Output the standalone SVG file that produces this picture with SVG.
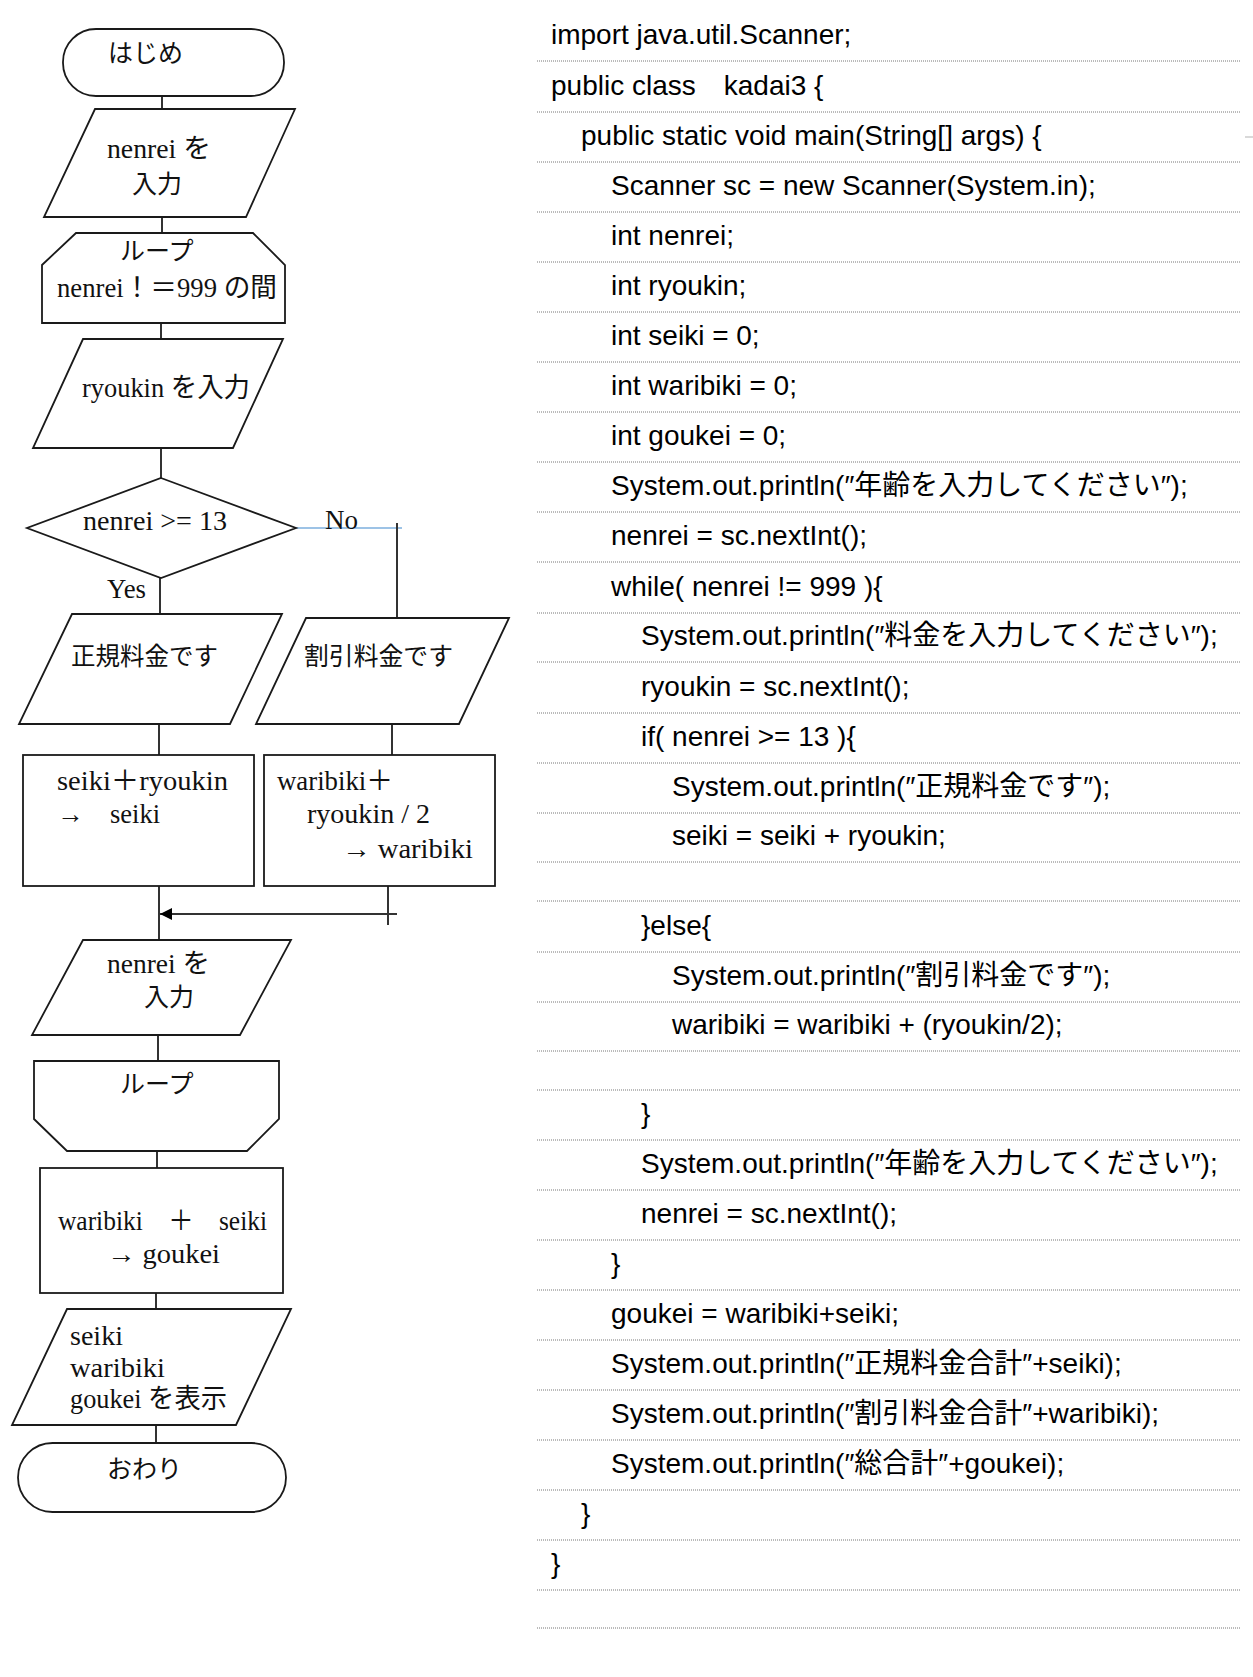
<svg xmlns="http://www.w3.org/2000/svg" width="1253" height="1677" viewBox="0 0 1253 1677">
<style>
.shape{fill:#fff;stroke:#1a1a1a;stroke-width:1.8}
.conn{stroke:#333;stroke-width:2;fill:none}
.ft{font-family:"Liberation Serif","Noto Sans CJK JP",serif;font-size:27px;fill:#111}
.cj{font-family:"Liberation Serif","Noto Sans CJK JP",serif;font-size:25px;fill:#111}
.code{font-family:"Liberation Sans","Noto Sans CJK JP",sans-serif;font-size:28px;fill:#000}
.dot{stroke:#777;stroke-width:1;stroke-dasharray:1 1}
</style>
<defs>
<marker id="arr" viewBox="0 0 10 10" refX="10" refY="5" markerWidth="14" markerHeight="12" markerUnits="userSpaceOnUse" orient="auto">
<path d="M0,0 L10,5 L0,10 z" fill="#000"/>
</marker>
</defs>
<rect width="1253" height="1677" fill="#fff"/>

<g id="connectors">
<line class="conn" x1="162" y1="96" x2="162" y2="109"/>
<line class="conn" x1="162" y1="217" x2="162" y2="233"/>
<line class="conn" x1="161" y1="323" x2="161" y2="339"/>
<line class="conn" x1="161" y1="448" x2="161" y2="478"/>
<line class="conn" x1="160" y1="578" x2="160" y2="614"/>
<line x1="296" y1="528" x2="402" y2="528" stroke="#9DC3E6" stroke-width="2"/>
<line class="conn" x1="397" y1="523" x2="397" y2="618"/>
<line class="conn" x1="159" y1="724" x2="159" y2="755"/>
<line class="conn" x1="392" y1="724" x2="392" y2="755"/>
<line class="conn" x1="159" y1="886" x2="159" y2="940"/>
<line class="conn" x1="388" y1="886" x2="388" y2="925"/>
<line class="conn" x1="397" y1="914" x2="160" y2="914" stroke="#000" marker-end="url(#arr)"/>
<line class="conn" x1="158" y1="1035" x2="158" y2="1061"/>
<line class="conn" x1="157" y1="1151" x2="157" y2="1168"/>
<line class="conn" x1="156" y1="1293" x2="156" y2="1309"/>
<line class="conn" x1="156" y1="1425" x2="156" y2="1443"/>
</g>

<g id="start">
<rect class="shape" x="63" y="29" width="221" height="67" rx="33" ry="33"/>
<text class="cj" x="108" y="62">はじめ</text>
</g>
<g id="input-nenrei">
<polygon class="shape" points="95,109 295,109 246,217 44,217"/>
<text class="ft" x="107" y="158" textLength="104" lengthAdjust="spacingAndGlyphs">nenrei を</text>
<text class="cj" x="132" y="193">入力</text>
</g>
<g id="loop-start">
<polygon class="shape" points="76,233 253,233 285,265 285,323 42,323 42,265"/>
<text class="cj" x="120" y="260">ループ</text>
<text class="ft" x="57" y="297" textLength="220" lengthAdjust="spacingAndGlyphs">nenrei！＝999 の間</text>
</g>
<g id="input-ryoukin">
<polygon class="shape" points="83,339 283,339 233,448 33,448"/>
<text class="ft" x="82" y="397" textLength="168" lengthAdjust="spacingAndGlyphs">ryoukin を入力</text>
</g>
<g id="decision">
<polygon class="shape" points="161,478 296,528 161,578 27,528"/>
<text class="ft" x="83" y="530" textLength="144" lengthAdjust="spacingAndGlyphs">nenrei &gt;= 13</text>
<text class="ft" x="325" y="529" textLength="33" lengthAdjust="spacingAndGlyphs">No</text>
<text class="ft" x="107" y="598" textLength="39" lengthAdjust="spacingAndGlyphs">Yes</text>
</g>
<g id="out-seiki">
<polygon class="shape" points="72,614 282,614 230,724 19,724"/>
<text class="cj" x="71" y="665" textLength="147" lengthAdjust="spacingAndGlyphs">正規料金です</text>
</g>
<g id="out-waribiki">
<polygon class="shape" points="306,618 509,618 459,724 256,724"/>
<text class="cj" x="304" y="665" textLength="149" lengthAdjust="spacingAndGlyphs">割引料金です</text>
</g>
<g id="calc-seiki">
<rect class="shape" x="23" y="755" width="231" height="131"/>
<text class="ft" x="57" y="790" textLength="171" lengthAdjust="spacingAndGlyphs">seiki＋ryoukin</text>
<text class="ft" x="57" y="823" textLength="103" lengthAdjust="spacingAndGlyphs">→　seiki</text>
</g>
<g id="calc-waribiki">
<rect class="shape" x="264" y="755" width="231" height="131"/>
<text class="ft" x="277" y="790" textLength="116" lengthAdjust="spacingAndGlyphs">waribiki＋</text>
<text class="ft" x="307" y="823" textLength="123" lengthAdjust="spacingAndGlyphs">ryoukin / 2</text>
<text class="ft" x="342" y="858" textLength="131" lengthAdjust="spacingAndGlyphs">→ waribiki</text>
</g>
<g id="input-nenrei-2">
<polygon class="shape" points="83,940 291,940 240,1035 32,1035"/>
<text class="ft" x="107" y="973" textLength="103" lengthAdjust="spacingAndGlyphs">nenrei を</text>
<text class="cj" x="144" y="1006">入力</text>
</g>
<g id="loop-end">
<polygon class="shape" points="34,1061 279,1061 279,1119 247,1151 67,1151 34,1119"/>
<text class="cj" x="120" y="1093">ループ</text>
</g>
<g id="calc-goukei">
<rect class="shape" x="40" y="1168" width="243" height="125"/>
<text class="ft" x="58" y="1230" textLength="209" lengthAdjust="spacingAndGlyphs">waribiki　＋　seiki</text>
<text class="ft" x="107" y="1263" textLength="113" lengthAdjust="spacingAndGlyphs">→ goukei</text>
</g>
<g id="display">
<polygon class="shape" points="67,1309 291,1309 236,1425 12,1425"/>
<text class="ft" x="70" y="1345" textLength="53" lengthAdjust="spacingAndGlyphs">seiki</text>
<text class="ft" x="70" y="1377" textLength="95" lengthAdjust="spacingAndGlyphs">waribiki</text>
<text class="ft" x="70" y="1408" textLength="157" lengthAdjust="spacingAndGlyphs">goukei を表示</text>
</g>
<g id="end">
<rect class="shape" x="18" y="1443" width="268" height="69" rx="34.5" ry="34.5"/>
<text class="cj" x="107" y="1478">おわり</text>
</g>

<g id="code-rules">
<line class="dot" x1="537" y1="61" x2="1240" y2="61"/>
<line class="dot" x1="537" y1="112" x2="1240" y2="112"/>
<line class="dot" x1="537" y1="162" x2="1240" y2="162"/>
<line class="dot" x1="537" y1="212" x2="1240" y2="212"/>
<line class="dot" x1="537" y1="262" x2="1240" y2="262"/>
<line class="dot" x1="537" y1="312" x2="1240" y2="312"/>
<line class="dot" x1="537" y1="362" x2="1240" y2="362"/>
<line class="dot" x1="537" y1="412" x2="1240" y2="412"/>
<line class="dot" x1="537" y1="462" x2="1240" y2="462"/>
<line class="dot" x1="537" y1="512" x2="1240" y2="512"/>
<line class="dot" x1="537" y1="562" x2="1240" y2="562"/>
<line class="dot" x1="537" y1="613" x2="1240" y2="613"/>
<line class="dot" x1="537" y1="662" x2="1240" y2="662"/>
<line class="dot" x1="537" y1="713" x2="1240" y2="713"/>
<line class="dot" x1="537" y1="763" x2="1240" y2="763"/>
<line class="dot" x1="537" y1="813" x2="1240" y2="813"/>
<line class="dot" x1="537" y1="862" x2="1240" y2="862"/>
<line class="dot" x1="537" y1="901" x2="1240" y2="901"/>
<line class="dot" x1="537" y1="952" x2="1240" y2="952"/>
<line class="dot" x1="537" y1="1002" x2="1240" y2="1002"/>
<line class="dot" x1="537" y1="1051" x2="1240" y2="1051"/>
<line class="dot" x1="537" y1="1090" x2="1240" y2="1090"/>
<line class="dot" x1="537" y1="1140" x2="1240" y2="1140"/>
<line class="dot" x1="537" y1="1190" x2="1240" y2="1190"/>
<line class="dot" x1="537" y1="1240" x2="1240" y2="1240"/>
<line class="dot" x1="537" y1="1290" x2="1240" y2="1290"/>
<line class="dot" x1="537" y1="1340" x2="1240" y2="1340"/>
<line class="dot" x1="537" y1="1390" x2="1240" y2="1390"/>
<line class="dot" x1="537" y1="1440" x2="1240" y2="1440"/>
<line class="dot" x1="537" y1="1490" x2="1240" y2="1490"/>
<line class="dot" x1="537" y1="1540" x2="1240" y2="1540"/>
<line class="dot" x1="537" y1="1590" x2="1240" y2="1590"/>
<line class="dot" x1="537" y1="1628" x2="1240" y2="1628"/>
<line x1="1245" y1="137" x2="1253" y2="137" stroke="#ccc" stroke-width="1.5"/>
</g>

<g id="code">
<text class="code" x="551" y="44">import java.util.Scanner;</text>
<text class="code" x="551" y="95" xml:space="preserve">public class　kadai3 {</text>
<text class="code" x="581" y="145">public static void main(String[] args) {</text>
<text class="code" x="611" y="195">Scanner sc = new Scanner(System.in);</text>
<text class="code" x="611" y="245">int nenrei;</text>
<text class="code" x="611" y="295">int ryoukin;</text>
<text class="code" x="611" y="345">int seiki = 0;</text>
<text class="code" x="611" y="395">int waribiki = 0;</text>
<text class="code" x="611" y="445">int goukei = 0;</text>
<text class="code" x="611" y="495">System.out.println(″年齢を入力してください″);</text>
<text class="code" x="611" y="545">nenrei = sc.nextInt();</text>
<text class="code" x="611" y="596">while( nenrei != 999 ){</text>
<text class="code" x="641" y="645">System.out.println(″料金を入力してください″);</text>
<text class="code" x="641" y="696">ryoukin = sc.nextInt();</text>
<text class="code" x="641" y="746">if( nenrei &gt;= 13 ){</text>
<text class="code" x="672" y="796">System.out.println(″正規料金です″);</text>
<text class="code" x="672" y="845">seiki = seiki + ryoukin;</text>
<text class="code" x="641" y="935">}else{</text>
<text class="code" x="672" y="985">System.out.println(″割引料金です″);</text>
<text class="code" x="672" y="1034">waribiki = waribiki + (ryoukin/2);</text>
<text class="code" x="641" y="1123">}</text>
<text class="code" x="641" y="1173">System.out.println(″年齢を入力してください″);</text>
<text class="code" x="641" y="1223">nenrei = sc.nextInt();</text>
<text class="code" x="611" y="1273">}</text>
<text class="code" x="611" y="1323">goukei = waribiki+seiki;</text>
<text class="code" x="611" y="1373">System.out.println(″正規料金合計″+seiki);</text>
<text class="code" x="611" y="1423">System.out.println(″割引料金合計″+waribiki);</text>
<text class="code" x="611" y="1473">System.out.println(″総合計″+goukei);</text>
<text class="code" x="581" y="1523">}</text>
<text class="code" x="551" y="1573">}</text>
</g>
</svg>
